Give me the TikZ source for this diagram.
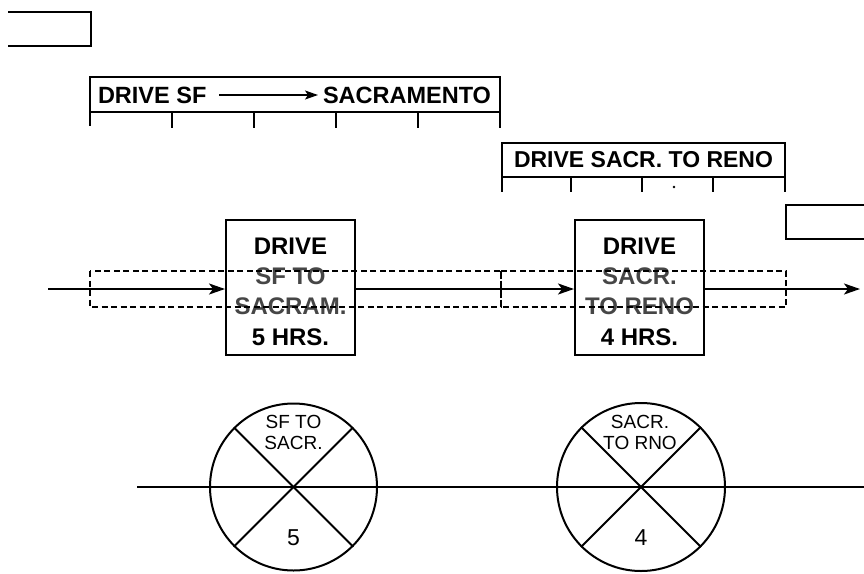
\documentclass[tikz,border=0pt]{standalone}
\usepackage{fontspec}
\setmainfont{Liberation Sans}
\usetikzlibrary{arrows.meta}
\definecolor{midgray}{RGB}{70,70,70}
\begin{document}
\begin{tikzpicture}[x=1pt,y=-1pt,
  line width=2pt,
  bartext/.style={font=\bfseries\fontsize{23.5}{28}\selectfont, inner sep=0pt},
  barframe/.style={draw, line width=1.8pt, inner sep=0pt},
  tickmark/.style={line width=2.2pt},
  actbox/.style={draw, line width=2pt, minimum width=129pt, minimum height=135pt, inner sep=0pt},
  boxtext/.style={align=center, inner sep=0pt, font=\bfseries\fontsize{24}{30.3}\selectfont},
  flow/.style={line width=2pt, -{Stealth[length=16pt,width=11pt,inset=4pt]}},
  thinflow/.style={line width=1.5pt, -{Stealth[length=13pt,width=9pt,inset=3pt]}},
  hammock/.style={dash pattern=on 6pt off 3.5pt, line width=1.6pt},
  wheel/.style={draw, circle, line width=2pt, minimum size=167pt, inner sep=0pt},
  wheeltext/.style={font=\fontsize{19}{21}\selectfont, align=center, inner sep=0pt},
  wheelnum/.style={font=\fontsize{23}{26}\selectfont, inner sep=0pt},
]
\useasboundingbox (0,0) rectangle (864,573);

% corner brackets (cut-off boxes)
\draw (8,12) -- (91,12) -- (91,46) -- (8,46);
\draw (864,205) -- (786,205) -- (786,239) -- (864,239);

% bar 1
\node[barframe, minimum width=410pt, minimum height=35pt] (bar1) at (295,94.5) {};
\node[bartext, anchor=west] (b1a) at (97,95) {DRIVE SF};
\node[bartext, anchor=east] (b1b) at (492,95) {SACRAMENTO};
\draw[thinflow, shorten <=12pt, shorten >=4pt] (b1a.east) -- (b1b.west);
\draw[tickmark] (90,112) -- (90,126);
\draw[tickmark] (500,112) -- (500,128);
\foreach \x in {172,254,336,418} \draw[tickmark] (\x,112) -- (\x,128);

% bar 2
\node[barframe, minimum width=283pt, minimum height=34pt] (bar2) at (643.5,160) {};
\node[bartext, font=\bfseries\fontsize{23}{28}\selectfont] (b2a) at (643.5,159.5) {DRIVE SACR. TO RENO};
\foreach \x in {502,571,642,713,785} \draw[tickmark] (\x,177) -- (\x,192);
\fill (674,187) circle (1.3pt);

% activity boxes
\node[actbox] (box1) at (290.5,287.5) {};
\node[boxtext] (box1t) at (290.5,291.5) {DRIVE\\\textcolor{midgray}{SF TO}\\\textcolor{midgray}{SACRAM.}\\5 HRS.};
\node[actbox] (box2) at (639.5,287.5) {};
\node[boxtext] (box2t) at (639.5,291.5) {DRIVE\\\textcolor{midgray}{SACR.}\\\textcolor{midgray}{TO RENO}\\4 HRS.};

% flow arrows
\coordinate (start) at (48,289);
\coordinate (finish) at (860,289);
\draw[flow] (start) -- (start -| box1.west);
\draw[flow] (start -| box1.east) -- (start -| box2.west);
\draw[flow] (start -| box2.east) -- (finish);

% dashed hammocks
\draw[hammock] (90,271) rectangle (501,307);
\draw[hammock] (501,271) rectangle (786,307);

% circles (activity-on-node wheels)
\coordinate (hl) at (137,487);
\coordinate (hr) at (864,487);
\draw (hl) -- (hr);
\node[wheel] (c1) at (293.5,487) {};
\draw (c1.45) -- (c1.225);
\draw (c1.135) -- (c1.315);
\node[wheeltext] (c1t) at (293.5,432.5) {SF TO\\SACR.};
\node[wheelnum] (c1n) at (293.5,538) {5};

\node[wheel, minimum size=168pt] (c2) at (641,487) {};
\draw (c2.45) -- (c2.225);
\draw (c2.135) -- (c2.315);
\node[wheeltext] (c2t) at (640,432.5) {SACR.\\TO RNO};
\node[wheelnum] (c2n) at (641,538) {4};
\end{tikzpicture}
\end{document}
